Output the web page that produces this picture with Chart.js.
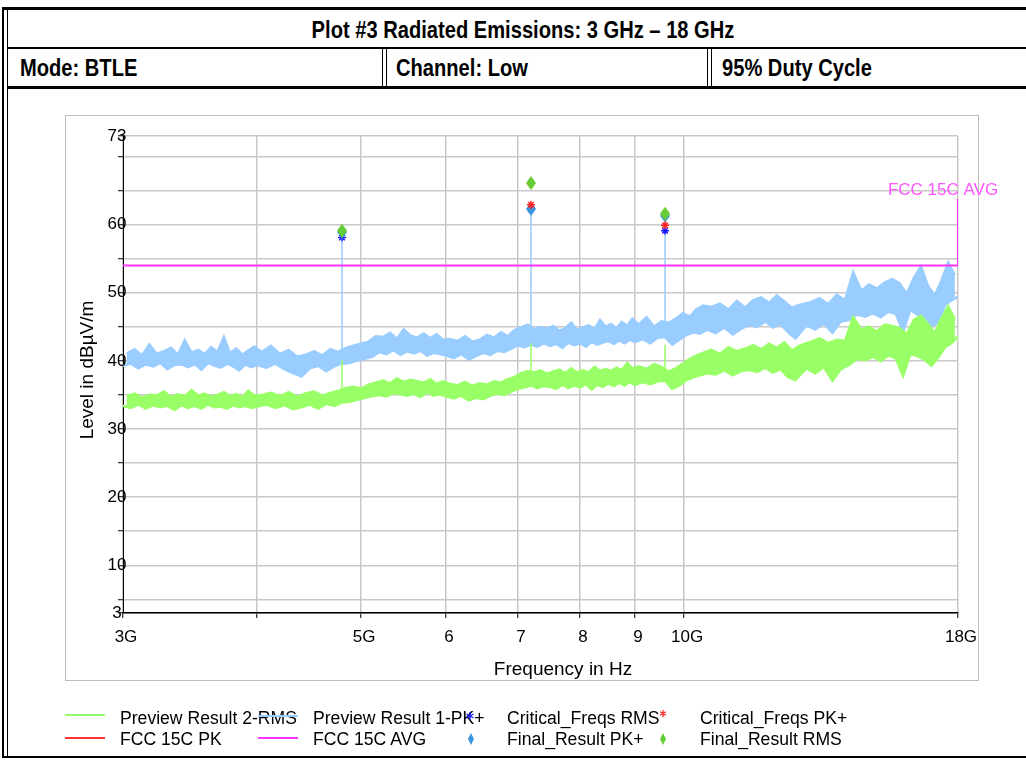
<!DOCTYPE html>
<html>
<head>
<meta charset="utf-8">
<script src="https://cdn.jsdelivr.net/npm/chart.js@4.4.1/dist/chart.umd.min.js"></script>
<style>
  html, body { margin: 0; padding: 0; background: #fff; }
  body { width: 1026px; height: 760px; position: relative; overflow: hidden; font-family: "Liberation Sans", Arial, sans-serif; }
  .rule { position: absolute; background: #000; }
  .head { position: absolute; font-family: "Liberation Sans Narrow", "Liberation Sans", sans-serif; font-weight: bold; font-size: 23px; line-height: 24px; white-space: nowrap; transform: scaleX(0.875); transform-origin: left center; }
  .head.center { transform-origin: center center; }
  .frame { position: absolute; left: 65px; top: 115px; width: 914px; height: 566px; box-sizing: border-box; border: 1px solid #bdbdbd; }
  .leg { position: absolute; font-size: 17.6px; line-height: 20px; white-space: nowrap; color: #000; }
  #chart { position: absolute; left: 0; top: 0; }
  #legendMarks { position: absolute; left: 0; top: 700px; }
</style>
</head>
<body>

<!-- report header -->
<div class="rule" style="left:2px;top:7px;width:1030px;height:3px"></div>
<div class="rule" style="left:2px;top:7px;width:2px;height:751px"></div>
<div class="rule" style="left:7px;top:7px;width:1px;height:751px"></div>
<div class="rule" style="left:7px;top:47px;width:1026px;height:2px"></div>
<div class="rule" style="left:382px;top:49px;width:1px;height:37px"></div>
<div class="rule" style="left:386px;top:49px;width:1px;height:37px"></div>
<div class="rule" style="left:707px;top:49px;width:1px;height:37px"></div>
<div class="rule" style="left:711px;top:49px;width:1px;height:37px"></div>
<div class="rule" style="left:7px;top:86px;width:1026px;height:3px"></div>
<div class="rule" style="left:2px;top:756px;width:1030px;height:2px"></div>

<div class="head center" style="left:8px;width:1030px;text-align:center;top:18px">Plot #3 Radiated Emissions: 3 GHz – 18 GHz</div>
<div class="head" style="left:20px;top:56px">Mode: BTLE</div>
<div class="head" style="left:396px;top:56px">Channel: Low</div>
<div class="head" style="left:722px;top:56px">95% Duty Cycle</div>

<div class="frame"></div>
<canvas id="chart" width="1026" height="760"></canvas>

<!-- legend -->
<div class="leg" style="left:120px;top:708px">Preview Result 2-RMS</div>
<div class="leg" style="left:313px;top:708px">Preview Result 1-PK+</div>
<div class="leg" style="left:507px;top:708px">Critical_Freqs RMS</div>
<div class="leg" style="left:700px;top:708px">Critical_Freqs PK+</div>
<div class="leg" style="left:120px;top:729px">FCC 15C PK</div>
<div class="leg" style="left:313px;top:729px">FCC 15C AVG</div>
<div class="leg" style="left:507px;top:729px">Final_Result PK+</div>
<div class="leg" style="left:700px;top:729px">Final_Result RMS</div>
<svg id="legendMarks" width="1026" height="56">
  <line x1="65" y1="15" x2="105" y2="15" stroke="#99ff66" stroke-width="2"/>
  <line x1="258" y1="16" x2="298" y2="16" stroke="#99ccff" stroke-width="2"/>
  <line x1="65" y1="38" x2="105" y2="38" stroke="#ff3333" stroke-width="2"/>
  <line x1="258" y1="38" x2="298" y2="38" stroke="#ff33ff" stroke-width="2"/>
  <path d="M470 12v8M466.5 14l7 4M466.5 18l7-4" stroke="#1a1aff" stroke-width="1.3" fill="none"/>
  <path d="M663 10v7M660 11.8l6 3.4M660 15.2l6-3.4" stroke="#ff2020" stroke-width="1.2" fill="none"/>
  <polygon points="471,33 474,39 471,45 468,39" fill="#3d95e0"/>
  <polygon points="663,33 666,39 663,45 660,39" fill="#66cc33"/>
</svg>

<script>
// ===============================
// DATA (frequencies in GHz, levels in dBµV/m)
// traces are read as alternating low / high readings of the noise band
// ===============================
const freqGHz = [
  3, 3.025, 3.05, 3.075, 3.1, 3.125, 3.15, 3.175, 3.2, 3.225,
  3.25, 3.275, 3.3, 3.325, 3.35, 3.375, 3.4, 3.425, 3.45, 3.475,
  3.5, 3.525, 3.55, 3.575, 3.6, 3.625, 3.65, 3.675, 3.7, 3.725,
  3.75, 3.775, 3.8, 3.825, 3.85, 3.875, 3.9, 3.925, 3.95, 3.975,
  4, 4.04, 4.08, 4.12, 4.16, 4.2, 4.24, 4.28, 4.32, 4.36,
  4.4, 4.44, 4.48, 4.52, 4.56, 4.6, 4.64, 4.68, 4.72, 4.76,
  4.8, 4.84, 4.88, 4.92, 4.96, 5, 5.04, 5.08, 5.12, 5.16,
  5.2, 5.24, 5.28, 5.32, 5.36, 5.4, 5.44, 5.48, 5.52, 5.56,
  5.6, 5.64, 5.68, 5.72, 5.76, 5.8, 5.84, 5.88, 5.92, 5.96,
  6, 6.05, 6.1, 6.15, 6.2, 6.25, 6.3, 6.35, 6.4, 6.45,
  6.5, 6.55, 6.6, 6.65, 6.7, 6.75, 6.8, 6.85, 6.9, 6.95,
  7, 7.05, 7.1, 7.15, 7.2, 7.25, 7.3, 7.35, 7.4, 7.45,
  7.5, 7.55, 7.6, 7.65, 7.7, 7.75, 7.8, 7.85, 7.9, 7.95,
  8, 8.05, 8.1, 8.15, 8.2, 8.25, 8.3, 8.35, 8.4, 8.45,
  8.5, 8.55, 8.6, 8.65, 8.7, 8.75, 8.8, 8.85, 8.9, 8.95,
  9, 9.075, 9.15, 9.225, 9.3, 9.375, 9.45, 9.525, 9.6, 9.675,
  9.75, 9.825, 9.9, 9.975, 10.05, 10.125, 10.2, 10.275, 10.35, 10.425,
  10.5, 10.6, 10.7, 10.8, 10.9, 11, 11.1, 11.2, 11.3, 11.4,
  11.5, 11.6, 11.7, 11.8, 11.9, 12, 12.1, 12.2, 12.3, 12.4,
  12.5, 12.6, 12.7, 12.8,
  13, 13.125, 13.25, 13.375, 13.5, 13.625, 13.75, 13.875, 14, 14.125,
  14.25, 14.375, 14.5, 14.625, 14.75, 14.875, 15, 15.125, 15.25, 15.375,
  15.5, 15.625, 15.75, 15.875, 16, 16.125, 16.25, 16.375, 16.5, 16.625,
  16.75, 16.875, 17, 17.125, 17.25, 17.375, 17.5, 17.625, 17.75, 17.875,
  18
];

// Preview Result 1-PK+
const pkLevel = [
  39.3, 41.1, 39.6, 41.7, 38.9, 40.8, 39.5, 42.4, 39.2, 41.0,
  39.7, 41.4, 38.8, 41.9, 39.4, 40.9, 39.5, 43.0, 39.1, 41.2,
  39.5, 41.6, 38.7, 41.0, 39.7, 42.0, 39.3, 41.3, 39.0, 43.5,
  39.6, 41.1, 39.2, 41.8, 38.6, 40.9, 39.5, 41.5, 39.1, 42.1,
  39.4, 41.3, 39.0, 42.2, 39.6, 41.0, 38.8, 41.6, 38.2, 40.6,
  37.7, 40.9, 38.9, 41.4, 39.3, 40.8, 38.5, 41.7, 39.2, 41.3,
  39.6, 41.9, 39.7, 42.2, 40.1, 42.5, 40.3, 42.8, 40.6, 43.6,
  41.3, 43.5, 41.0, 44.1, 41.6, 43.2, 40.9, 44.6, 41.4, 43.7,
  41.1, 43.4, 41.5, 44.0, 40.8, 43.3, 41.2, 43.9, 41.0, 43.1,
  40.8, 43.2, 40.4, 42.9, 41.0, 43.6, 40.2, 42.8, 40.7, 43.1,
  41.2, 43.8, 40.9, 43.4, 41.5, 44.2, 41.3, 43.6, 41.8, 44.5,
  42.3, 44.9, 42.0, 45.3, 42.4, 44.6, 42.1, 45.0, 42.6, 44.7,
  42.2, 45.1, 42.5, 44.4, 41.9, 44.8, 42.7, 45.6, 42.3, 44.5,
  42.6, 44.9, 42.1, 45.2, 42.8, 44.6, 42.4, 46.0, 42.7, 45.0,
  42.9, 45.4, 42.5, 44.8, 43.0, 45.7, 42.6, 45.1, 43.1, 46.2,
  42.8, 45.3, 43.2, 46.4, 42.6, 45.0, 43.4, 45.8, 43.5, 45.6,
  42.4, 46.2, 43.1, 47.0, 43.8, 46.5, 44.2, 47.6, 44.0, 48.1,
  44.6, 47.9, 44.1, 48.4, 44.9, 47.5, 43.9, 48.8, 44.7, 47.8,
  45.3, 48.9, 45.0, 49.3, 45.8, 48.5, 44.9, 49.6, 45.4, 48.7,
  44.2, 47.8, 43.3, 48.2,
  45.2, 48.6, 44.6, 49.2, 45.5, 48.3, 44.1, 49.7, 45.8, 48.9,
  46.0, 53.0, 46.8, 50.3, 46.5, 51.2, 47.0, 50.6, 46.4, 51.5,
  47.2, 52.0, 46.9, 51.4, 44.3, 49.8, 47.5, 52.2, 46.8, 53.9,
  46.3, 51.0, 45.1, 49.6, 45.6, 51.8, 48.2, 54.4, 48.9, 52.6,
  49.4
];

// Preview Result 2-RMS
const rmsLevel = [
  33.4, 34.8, 33.1, 35.2, 33.6, 34.6, 33.0, 35.0, 33.5, 34.9,
  33.2, 35.5, 33.4, 34.7, 32.8, 35.1, 33.5, 34.8, 33.1, 35.7,
  33.4, 34.9, 33.0, 35.2, 33.6, 34.7, 33.2, 35.0, 33.3, 35.4,
  33.0, 34.8, 33.5, 35.1, 33.2, 34.6, 33.4, 35.6, 33.1, 34.9,
  33.3, 35.0, 33.6, 35.3, 33.1, 34.8, 33.5, 35.4, 32.9, 34.7,
  33.2, 35.2, 33.6, 35.5, 33.0, 34.9, 33.7, 35.3, 33.4, 35.6,
  33.9, 36.0, 34.0, 36.2, 34.3, 35.9, 34.6, 36.5, 34.8, 36.8,
  35.0, 37.1, 34.8, 36.7, 35.3, 37.4, 35.1, 36.9, 34.9, 37.2,
  35.2, 37.0, 34.7, 36.8, 35.4, 37.3, 34.9, 36.6, 35.1, 37.0,
  34.8, 36.6, 34.5, 36.4, 34.9, 36.9, 34.2, 36.3, 34.6, 36.7,
  34.4, 36.5, 34.9, 37.0, 35.2, 36.8, 35.0, 37.3, 35.5, 37.6,
  35.9, 38.2, 36.1, 38.5, 36.4, 38.3, 36.0, 38.6, 36.3, 38.1,
  36.2, 38.4, 35.9, 38.7, 36.5, 38.2, 36.0, 38.9, 36.4, 38.3,
  36.1, 38.6, 36.6, 38.3, 35.8, 39.1, 36.5, 38.5, 36.2, 38.8,
  36.7, 38.5, 36.3, 39.0, 36.8, 38.6, 36.4, 39.7, 36.9, 38.9,
  36.5, 39.2, 36.9, 38.8, 36.6, 39.5, 37.0, 39.1, 37.1, 38.4,
  35.9, 38.9, 36.4, 39.6, 37.2, 40.3, 37.6, 40.8, 37.9, 41.2,
  38.2, 41.6, 38.0, 41.0, 38.6, 42.0, 37.9, 41.4, 38.5, 41.8,
  38.7, 42.3, 38.4, 41.7, 39.0, 42.5, 38.3, 41.9, 38.8, 42.7,
  37.6, 41.5, 37.2, 42.2,
  38.9, 42.8, 38.2, 43.3, 39.1, 42.6, 37.1, 43.1, 38.8, 42.9,
  39.4, 46.4, 40.3, 44.6, 40.1, 45.0, 40.6, 44.3, 40.0, 45.3,
  40.8, 45.1, 40.4, 44.8, 37.8, 43.9, 41.0, 46.0, 40.7, 46.6,
  40.2, 45.4, 39.3, 44.1, 40.5, 46.2, 42.0, 48.0, 42.6, 46.1,
  43.6
];

// single-bin emissions rising out of the noise
const spikeFreq = [4.8, 7.2, 9.6];
const pkSpikeLevel = [58.1, 62.3, 59.1];
const rmsSpikeLevel = [40.1, 42.6, 42.4];

// limit lines
const limitAvgFreq = [3, 18, 18];
const limitAvgLevel = [54, 54, 63.8];
const limitPkFreq = [3, 18];
const limitPkLevel = [74, 74];

// markers
const critRmsFreq = [4.8, 7.2, 9.6];
const critRmsLevel = [58.1, 62.3, 59.1];
const critPkFreq = [7.2, 9.6];
const critPkLevel = [62.9, 59.9];
const finalFreq = [4.8, 7.2, 9.6];
const finalPkLevel = [58.9, 62.3, 61.3];
const finalRmsLevel = [59.1, 66.1, 61.6];

// axes
const yTicks = [3, 5, 10, 15, 20, 25, 30, 35, 40, 45, 50, 55, 60, 65, 70, 73];
const yTickLabels = [3, 10, 20, 30, 40, 50, 60, 73];
const xTicks = [3, 4, 5, 6, 7, 8, 9, 10, 18];
const xTickLabels = ['3G', '', '5G', '6', '7', '8', '9', '10G', '18G'];

// ===============================
// HELPERS
// ===============================
const FONT = '"Liberation Sans", Arial, sans-serif';

function points(xs, ys) {
  const n = Math.min(xs.length, ys.length);
  const out = [];
  for (let i = 0; i < n; i++) out.push({ x: xs[i], y: ys[i] });
  return out;
}

// every other reading: parity 0 = low edge, 1 = high edge
function edge(ys, parity) {
  const out = [];
  ys.forEach((v, i) => { if (i % 2 === parity) out.push({ x: freqGHz[i], y: v }); });
  return out;
}

// noise band = filled area between its high and low edge
function band(label, ys, color, order) {
  return [
    { label, data: edge(ys, 1), borderColor: color, borderWidth: 2.6, pointRadius: 0, fill: false, order },
    { label: label + ' low', data: edge(ys, 0), borderColor: color, backgroundColor: color, borderWidth: 2.6, pointRadius: 0, fill: '-1', order }
  ];
}

function sticks(label, base, peaks, color, order) {
  const data = [];
  spikeFreq.forEach((f, k) => {
    const i = freqGHz.indexOf(f);
    data.push({ x: f, y: base[i] }, { x: f, y: peaks[k] }, { x: f, y: null });
  });
  return { label, data, borderColor: color, borderWidth: 1.5, pointRadius: 0, spanGaps: false, order };
}

function diamond(color) {
  const c = document.createElement('canvas');
  c.width = 10; c.height = 14;
  const g = c.getContext('2d');
  g.fillStyle = color;
  g.beginPath();
  g.moveTo(5, 0); g.lineTo(10, 7); g.lineTo(5, 14); g.lineTo(0, 7);
  g.closePath();
  g.fill();
  return c;
}

function markerSet(label, xs, ys, style, color, order) {
  return {
    label,
    data: points(xs, ys),
    showLine: false,
    pointStyle: style,
    pointRadius: style === 'star' ? 4 : 6,
    pointBorderWidth: 1.4,
    pointBorderColor: color,
    pointBackgroundColor: color,
    order
  };
}

// texts that sit outside the chart scales' own labels
const extraText = {
  id: 'extraText',
  afterDraw(chart) {
    const { ctx } = chart;
    const x = chart.scales.x;
    const y = chart.scales.y;
    ctx.save();
    ctx.fillStyle = '#000';

    // y tick labels, centred over the axis line like the original
    ctx.font = '17px ' + FONT;
    ctx.textAlign = 'center';
    ctx.textBaseline = 'middle';
    yTickLabels.forEach(v => ctx.fillText(String(v), 117, y.getPixelForValue(v)));

    ctx.font = '19px ' + FONT;
    ctx.fillText('Frequency in Hz', 563, 670);

    ctx.save();
    ctx.translate(88, 370);
    ctx.rotate(-Math.PI / 2);
    ctx.fillText('Level in dBµV/m', 0, 0);
    ctx.restore();

    ctx.fillStyle = '#ff55ff';
    ctx.font = '17px ' + FONT;
    ctx.fillText('FCC 15C AVG', x.getPixelForValue(18) - 15, y.getPixelForValue(63.8) - 8);
    ctx.restore();
  }
};

// ===============================
// CHART
// ===============================
new Chart(document.getElementById('chart').getContext('2d'), {
  type: 'line',
  data: {
    datasets: [
      ...band('Preview Result 1-PK+', pkLevel, '#99ccff', 12),
      sticks('Preview Result 1-PK+ peaks', pkLevel, pkSpikeLevel, '#99ccff', 11),
      ...band('Preview Result 2-RMS', rmsLevel, '#99ff66', 10),
      sticks('Preview Result 2-RMS peaks', rmsLevel, rmsSpikeLevel, '#99ff66', 9),
      {
        label: 'FCC 15C PK',
        data: points(limitPkFreq, limitPkLevel),
        borderColor: '#ff3333',
        borderWidth: 2,
        pointRadius: 0,
        order: 8
      },
      {
        label: 'FCC 15C AVG',
        data: points(limitAvgFreq, limitAvgLevel),
        borderColor: '#ff33ff',
        borderWidth: 2,
        pointRadius: 0,
        order: 7
      },
      markerSet('Critical_Freqs RMS', critRmsFreq, critRmsLevel, 'star', '#1a1aff', 6),
      markerSet('Final_Result PK+', finalFreq, finalPkLevel, diamond('#3d95e0'), '#3d95e0', 5),
      markerSet('Critical_Freqs PK+', critPkFreq, critPkLevel, 'star', '#ff2020', 4),
      markerSet('Final_Result RMS', finalFreq, finalRmsLevel, diamond('#66cc33'), '#66cc33', 3)
    ]
  },
  options: {
    responsive: false,
    animation: false,
    layout: { padding: { left: 0, top: 136, right: 68, bottom: 107 } },
    plugins: {
      legend: { display: false },
      tooltip: { enabled: false }
    },
    elements: { line: { tension: 0 } },
    scales: {
      x: {
        type: 'logarithmic',
        min: 3,
        max: 18,
        afterBuildTicks: s => { s.ticks = xTicks.map(v => ({ value: v })); },
        afterFit: s => { s.height = 40; },
        ticks: {
          autoSkip: false,
          maxRotation: 0,
          color: '#000',
          padding: 9,
          labelOffset: 3,
          font: { family: FONT, size: 17 },
          callback: v => xTickLabels[xTicks.indexOf(v)]
        },
        grid: { color: '#c8c8c8', lineWidth: 1.5, tickColor: '#000', tickWidth: 1, tickLength: 5 },
        border: { color: '#000', width: 1.5 }
      },
      y: {
        min: 3,
        max: 73,
        afterBuildTicks: s => { s.ticks = yTicks.map(v => ({ value: v })); },
        afterFit: s => { s.width = 123; },
        ticks: {
          autoSkip: false,
          callback: () => ''
        },
        grid: { color: '#c8c8c8', lineWidth: 1.5, tickColor: '#000', tickWidth: 1, tickLength: 5 },
        border: { color: '#000', width: 1 }
      }
    }
  },
  plugins: [extraText]
});
</script>
</body>
</html>
